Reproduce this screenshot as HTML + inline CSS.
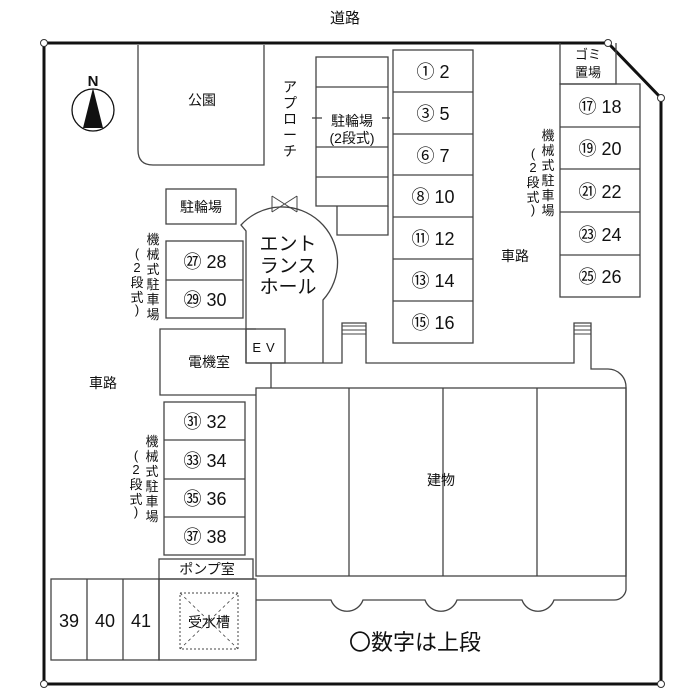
<!DOCTYPE html>
<html><head><meta charset="utf-8"><style>
html,body{margin:0;padding:0;background:#fff}
svg{display:block}
text{font-family:"Liberation Sans","Noto Sans CJK JP",sans-serif;fill:#111}
</style></head><body>
<svg width="700" height="700" viewBox="0 0 700 700" xmlns="http://www.w3.org/2000/svg">
<g fill="none" stroke="#333" stroke-width="1.3">
<polyline points="44,684 44,43 608,43 661,98 661,684 44,684" stroke="#111" stroke-width="3"/>
</g>
<g fill="#fff" stroke="#333" stroke-width="1">
<circle cx="44" cy="43" r="3.5"/><circle cx="608" cy="43" r="3.5"/><circle cx="661" cy="98" r="3.5"/>
<circle cx="44" cy="684" r="3.5"/><circle cx="661" cy="684" r="3.5"/>
</g>
<text x="345" y="23" font-size="15" text-anchor="middle">道路</text>
<circle cx="93" cy="110" r="21" fill="none" stroke="#111" stroke-width="1.3"/>
<polygon points="93,88 83,128 103,128" fill="#111"/>
<text x="93" y="86" font-size="15" font-weight="bold" text-anchor="middle">N</text>
<g fill="none" stroke="#444" stroke-width="1.3">
<path d="M138,45 V150 Q138,165 153,165 H264 V45"/>
<rect x="316" y="57" width="72" height="149"/>
<line x1="316" y1="87" x2="388" y2="87"/><line x1="316" y1="147" x2="388" y2="147"/><line x1="316" y1="177" x2="388" y2="177"/>
<line x1="312" y1="118" x2="322" y2="118"/><line x1="382" y1="118" x2="390" y2="118"/>
<path d="M337,206 V235 H388 V206"/>
<rect x="393" y="50" width="80" height="293"/>
<line x1="393" y1="92" x2="473" y2="92"/><line x1="393" y1="134" x2="473" y2="134"/><line x1="393" y1="175" x2="473" y2="175"/><line x1="393" y1="217" x2="473" y2="217"/><line x1="393" y1="259" x2="473" y2="259"/><line x1="393" y1="301" x2="473" y2="301"/>
<path d="M560,43 V84 H616 V43"/>
<rect x="560" y="84" width="80" height="213"/>
<line x1="560" y1="127" x2="640" y2="127"/><line x1="560" y1="169" x2="640" y2="169"/><line x1="560" y1="212" x2="640" y2="212"/><line x1="560" y1="255" x2="640" y2="255"/>
<rect x="166" y="189" width="70" height="35"/>
<rect x="166" y="241" width="77" height="77"/><line x1="166" y1="280" x2="243" y2="280"/>
<path d="M246,363 V231 L241,225 A49,49 0 1 1 323,300 V363"/>
<path d="M272,196 L297,212 M272,212 L297,196 M272,196 V212 M297,196 V212" stroke-width="1"/>
<rect x="246" y="329" width="39" height="34"/>
<path d="M256,329 H160 V395 H256"/>
<line x1="271" y1="363" x2="271" y2="388"/>
<path d="M246,363 H342 V323 H366 V363 H574 V323 H591 V369 H608 A18,18 0 0 1 626,387 V590 A12,12 0 0 1 614,600 H554 A17,17 0 0 1 522,600 H457 A17,17 0 0 1 425,600 H363 A17,17 0 0 1 331,600 H256"/>
<path d="M342,326 H366 M342,330 H366 M342,334 H366 M574,326 H591 M574,330 H591 M574,334 H591" stroke-width="1"/>
<rect x="256" y="388" width="370" height="188"/>
<line x1="349" y1="388" x2="349" y2="576"/><line x1="443" y1="388" x2="443" y2="576"/><line x1="537" y1="388" x2="537" y2="576"/>
<rect x="164" y="402" width="81" height="153"/>
<line x1="164" y1="440" x2="245" y2="440"/><line x1="164" y1="479" x2="245" y2="479"/><line x1="164" y1="517" x2="245" y2="517"/>
<rect x="159" y="559" width="94" height="20"/>
<rect x="159" y="579" width="97" height="81"/>
<rect x="51" y="579" width="108" height="81"/>
<line x1="87" y1="579" x2="87" y2="660"/><line x1="123" y1="579" x2="123" y2="660"/>
<rect x="180" y="593" width="58" height="56" stroke-dasharray="2,2" stroke-width="1"/>
<path d="M180,593 L238,649 M238,593 L180,649" stroke-dasharray="3,3" stroke-width="0.8"/>
</g>
<g font-size="14" text-anchor="middle">
<text x="202" y="105">公園</text>
<text x="201" y="212">駐輪場</text>
<text x="352" y="126">駐輪場</text>
<text x="352" y="143">(2段式)</text>
<text x="515" y="261">車路</text>
<text x="103" y="388">車路</text>
<text x="441" y="485">建物</text>
<text x="209" y="367">電機室</text>
<text x="266" y="352" font-size="13" letter-spacing="5">EV</text>
<text x="207" y="574">ポンプ室</text>
<text x="209" y="627">受水槽</text>
<text x="588" y="59" font-size="13">ゴミ</text>
<text x="588" y="77" font-size="13">置場</text>
</g>
<g font-size="19" text-anchor="middle">
<text x="288" y="250">エント</text>
<text x="288" y="272">ランス</text>
<text x="288" y="293">ホール</text>
</g>
<g font-size="18" text-anchor="middle">
<text x="433" y="78">① 2</text><text x="433" y="120">③ 5</text><text x="433" y="162">⑥ 7</text>
<text x="433" y="203">⑧ 10</text><text x="433" y="245">⑪ 12</text><text x="433" y="287">⑬ 14</text><text x="433" y="329">⑮ 16</text>
<text x="600" y="113">⑰ 18</text><text x="600" y="155">⑲ 20</text><text x="600" y="198">㉑ 22</text><text x="600" y="241">㉓ 24</text><text x="600" y="283">㉕ 26</text>
<text x="205" y="268">㉗ 28</text><text x="205" y="306">㉙ 30</text>
<text x="205" y="428">㉛ 32</text><text x="205" y="467">㉝ 34</text><text x="205" y="505">㉟ 36</text><text x="205" y="543">㊲ 38</text>
<text x="69" y="627">39</text><text x="105" y="627">40</text><text x="141" y="627">41</text>
</g>
<text x="415" y="650" font-size="22" text-anchor="middle">〇数字は上段</text>
<g font-size="14" text-anchor="middle">
<text x="290" y="92">ア</text><text x="290" y="108">プ</text><text x="290" y="124">ロ</text><text x="290" y="140">ー</text><text x="290" y="156">チ</text>
</g>
<g font-size="13" text-anchor="middle">
<text x="548" y="140">機</text><text x="548" y="155">械</text><text x="548" y="170">式</text><text x="548" y="185">駐</text><text x="548" y="200">車</text><text x="548" y="215">場</text>
<text x="533" y="158">(</text><text x="533" y="172">2</text><text x="533" y="187">段</text><text x="533" y="202">式</text><text x="533" y="214">)</text>
<text x="153" y="244">機</text><text x="153" y="259">械</text><text x="153" y="274">式</text><text x="153" y="289">駐</text><text x="153" y="304">車</text><text x="153" y="319">場</text>
<text x="137" y="258">(</text><text x="137" y="272">2</text><text x="137" y="287">段</text><text x="137" y="302">式</text><text x="137" y="314">)</text>
<text x="152" y="446">機</text><text x="152" y="461">械</text><text x="152" y="476">式</text><text x="152" y="491">駐</text><text x="152" y="506">車</text><text x="152" y="521">場</text>
<text x="136" y="460">(</text><text x="136" y="474">2</text><text x="136" y="489">段</text><text x="136" y="504">式</text><text x="136" y="516">)</text>
</g>
</svg>
</body></html>
